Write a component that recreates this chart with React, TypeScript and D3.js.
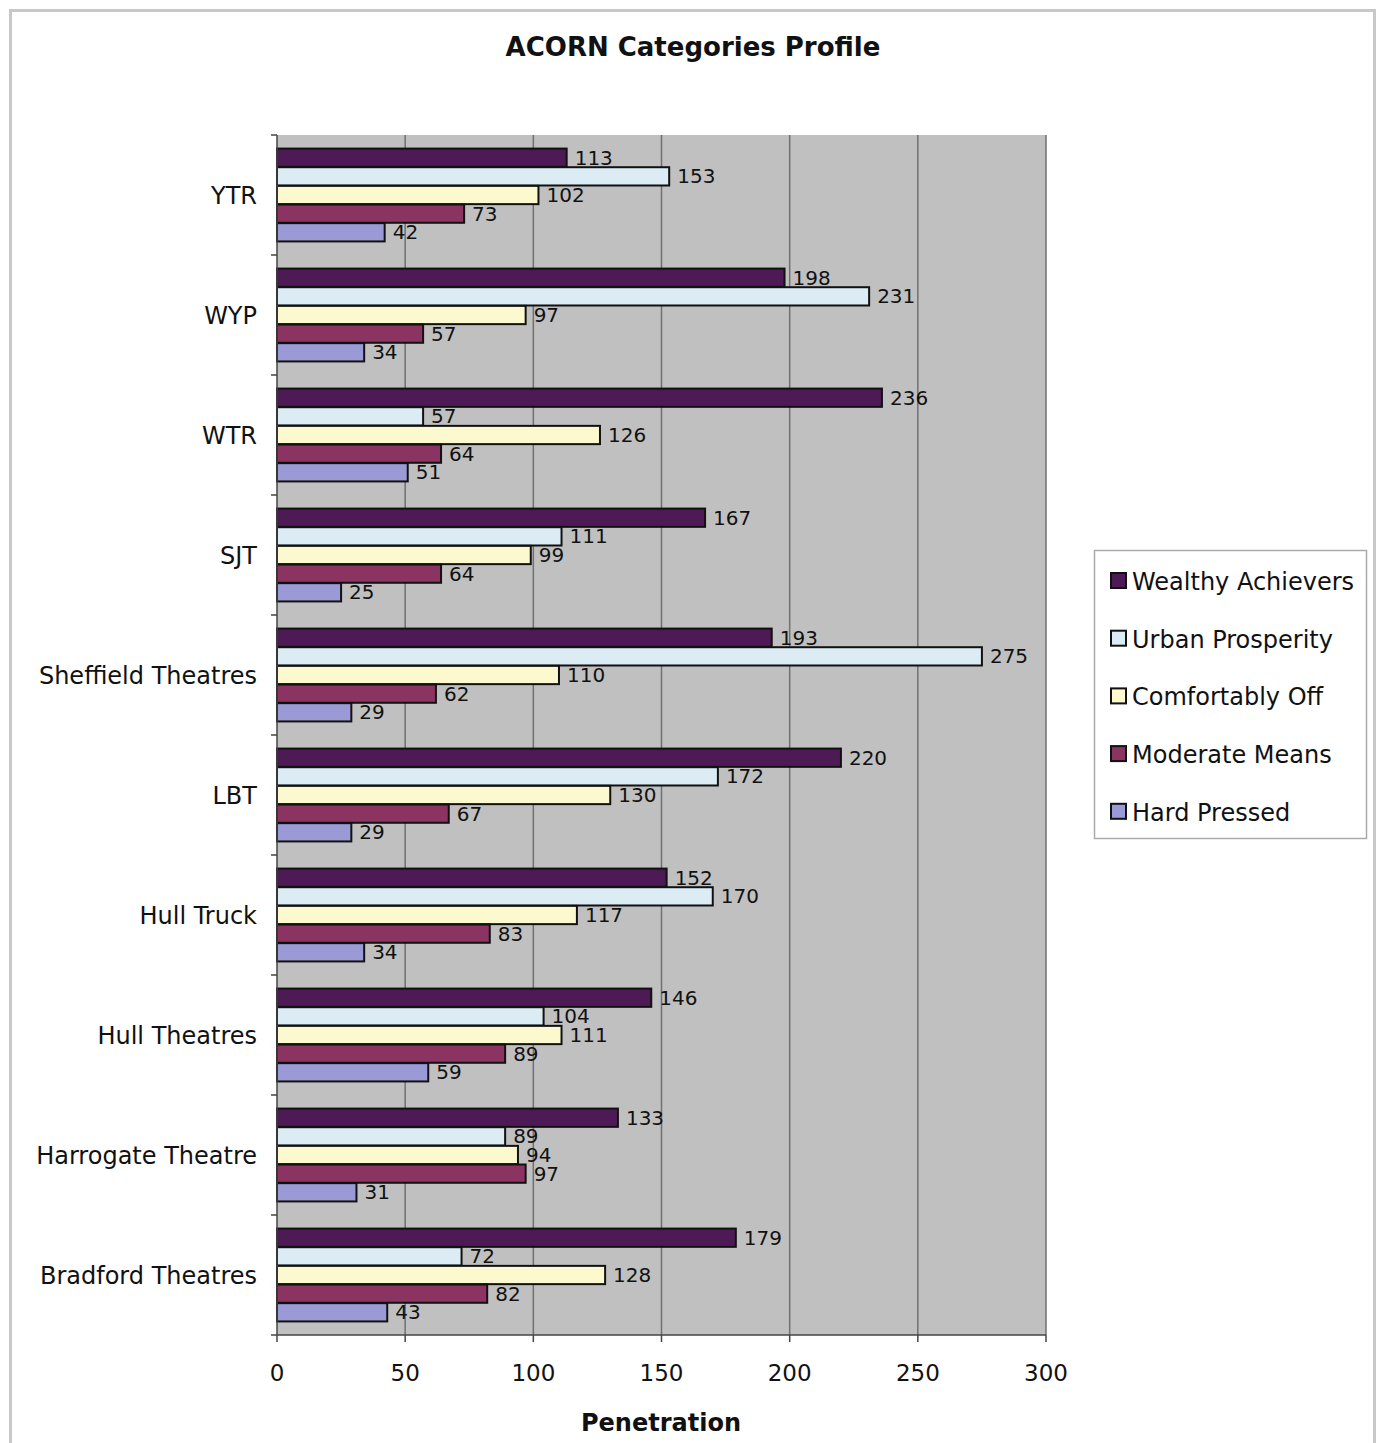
import React from "react";
import * as d3 from "d3";

const categories = ["YTR", "WYP", "WTR", "SJT", "Sheffield Theatres", "LBT", "Hull Truck", "Hull Theatres", "Harrogate Theatre", "Bradford Theatres"];
const seriesNames = ["Wealthy Achievers", "Urban Prosperity", "Comfortably Off", "Moderate Means", "Hard Pressed"];
const seriesColors = ["#4e1a56", "#dcecf4", "#fdf9cf", "#8b3462", "#9a9ad6"];
const wealthy = [113, 198, 236, 167, 193, 220, 152, 146, 133, 179];
const urban = [153, 231, 57, 111, 275, 172, 170, 104, 89, 72];
const comfortably = [102, 97, 126, 99, 110, 130, 117, 111, 94, 128];
const moderate = [73, 57, 64, 64, 62, 67, 83, 89, 97, 82];
const hard = [42, 34, 51, 25, 29, 29, 34, 59, 31, 43];
const xTicks = [0, 50, 100, 150, 200, 250, 300];

const seriesValues = [wealthy, urban, comfortably, moderate, hard];

const W = 1380;
const H = 1443;
const plotL = 277, plotR = 1046, plotT = 135, plotB = 1335;
const font = "'DejaVu Sans', Verdana, sans-serif";

export default function App() {
  const x = d3.scaleLinear().domain([0, 300]).range([plotL, plotR]);
  const y0 = d3.scaleBand().domain(categories).range([plotT, plotB]).paddingInner(0.22).paddingOuter(0.11);
  const y1 = d3.scaleBand().domain(seriesNames).range([0, y0.bandwidth()]).padding(0.02);

  return (
    <svg width={W} height={H} style={{ position: "absolute", left: 0, top: 0 }} fontFamily={font}>
      <rect x={0} y={0} width={W} height={H} fill="#fff" />
      <rect x={10.5} y={10.5} width={1364} height={H} fill="#fff" stroke="#c8c8c8" strokeWidth={3} />
      <text x={693} y={56} textAnchor="middle" fontSize={26} fontWeight="bold" fill="#111">ACORN Categories Profile</text>
      <rect x={plotL} y={plotT} width={plotR - plotL} height={plotB - plotT} fill="#c0c0c0" />
      {xTicks.slice(1).map((t) => (
        <line key={t} x1={x(t)} x2={x(t)} y1={plotT} y2={plotB} stroke="#707070" strokeWidth={1.5} />
      ))}
      {categories.map((c, ci) => (
        <g key={c}>
          {seriesNames.map((s, si) => {
            const v = seriesValues[si][ci];
            const yy = (y0(c) as number) + (y1(s) as number);
            const h = y1.bandwidth();
            return (
              <g key={s}>
                <rect x={x(0)} y={yy} width={x(v) - x(0)} height={h} fill={seriesColors[si]} stroke="#111" strokeWidth={2} />
                <text x={x(v) + 8} y={yy + h / 2 + 7} fontSize={20} fill="#111">{v}</text>
              </g>
            );
          })}
          <text x={257} y={(y0(c) as number) + y0.bandwidth() / 2 + 9} textAnchor="end" fontSize={24} fill="#111">{c}</text>
        </g>
      ))}
      <line x1={plotL} x2={plotL} y1={plotT} y2={plotB} stroke="#444" strokeWidth={1.5} />
      <line x1={plotL} x2={plotR} y1={plotB} y2={plotB} stroke="#444" strokeWidth={1.5} />
      {d3.range(categories.length + 1).map((i) => {
        const yy = plotT + (i * (plotB - plotT)) / categories.length;
        return <line key={i} x1={plotL - 6} x2={plotL} y1={yy} y2={yy} stroke="#444" strokeWidth={1.5} />;
      })}
      {xTicks.map((t) => (
        <g key={t}>
          <line x1={x(t)} x2={x(t)} y1={plotB} y2={plotB + 7} stroke="#444" strokeWidth={1.5} />
          <text x={x(t)} y={plotB + 46} textAnchor="middle" fontSize={23} fill="#111">{t}</text>
        </g>
      ))}
      <text x={661} y={1431} textAnchor="middle" fontSize={24} fontWeight="bold" fill="#111">Penetration</text>
      <rect x={1094.5} y={550.5} width={272} height={288} fill="#fff" stroke="#aaa" strokeWidth={1.5} />
      {seriesNames.map((s, i) => {
        const yy = 581 + i * 57.7;
        return (
          <g key={s}>
            <rect x={1111} y={yy - 8} width={15} height={15} fill={seriesColors[i]} stroke="#111" strokeWidth={2} />
            <text x={1132} y={yy + 9} fontSize={24} fill="#111">{s}</text>
          </g>
        );
      })}
    </svg>
  );
}
